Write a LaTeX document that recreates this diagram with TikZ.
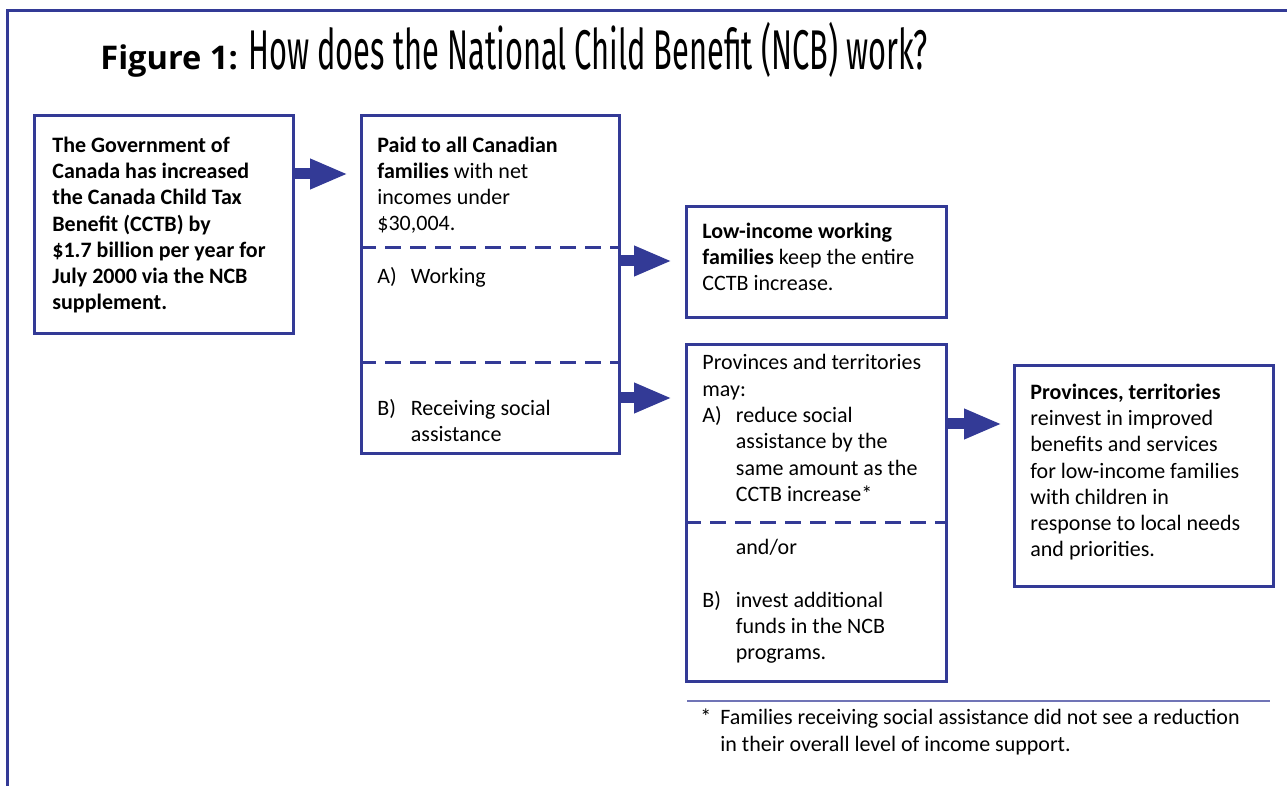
\documentclass[tikz,border=0pt]{standalone}
\usepackage{fontspec}
\usepackage{graphicx}
\setmainfont{Carlito}
\newfontfamily\titlefont{Fira Sans}
\newfontfamily\figfont{Open Sans}
\usetikzlibrary{arrows.meta}
\definecolor{ncbblue}{RGB}{51,58,150}
\definecolor{ncbrule}{RGB}{112,116,182}
\tikzset{
  box/.style={draw=ncbblue,line width=1.5pt,anchor=north west,inner sep=0pt},
  divider/.style={draw=ncbblue,line width=1.5pt,dash pattern=on 8pt off 4.5pt},
  flow/.style={draw=ncbblue,fill=ncbblue,line width=5.5pt,-{Triangle[length=19pt,width=14pt]}},
  % anchored on the baseline of the last line
  txt/.style={anchor=base west,inner sep=0pt,align=left,font=\fontsize{11}{13.15}\selectfont},
  boldtxt/.style={txt,font=\fontsize{11}{13.15}\selectfont\bfseries},
}
\newcommand\lbl[1]{\makebox[16.75pt][l]{#1}}
\newcommand\ind{\hspace*{16.75pt}}

\begin{document}
\begin{tikzpicture}[x=0.5pt,y=-0.5pt]
	\useasboundingbox (0,0) rectangle (1287,786);
	% frame
	\draw[ncbblue,line width=1.5pt] (7,786) -- (7,11) -- (1287,11);
	% title
	\node (fig) at (100,70) [anchor=base west,inner sep=0pt] {\figfont\bfseries\fontsize{16.3}{17}\selectfont Figure 1:};
	\node (title) at (248,70) [anchor=base west,inner sep=0pt] {\scalebox{0.55}[1]{\titlefont\fontsize{28}{28}\selectfont How does the National Child Benefit (NCB) work?}};
	% boxes
	\node (gov) at (33,114) [box,minimum width=129.5pt,minimum height=109pt] {};
	\node (paid) at (360,114) [box,minimum width=129pt,minimum height=169pt] {};
	\node (work) at (685,205) [box,minimum width=130pt,minimum height=55.5pt] {};
	\node (prov) at (685,343) [box,minimum width=130pt,minimum height=168.5pt] {};
	\node (reinv) at (1013,364) [box,minimum width=129.5pt,minimum height=110.5pt] {};
	% dashed splits
	\draw[divider] (paid.west |- 0,248) -- (paid.east |- 0,248);
	\draw[divider] (paid.west |- 0,363) -- (paid.east |- 0,363);
	\draw[divider] (prov.west |- 0,523) -- (prov.east |- 0,523);
	% arrows
	\coordinate (a1) at ([yshift=-30pt]gov.north east);
	\coordinate (a2) at ([yshift=-73.5pt]paid.north east);
	\coordinate (a3) at ([yshift=-142pt]paid.north east);
	\coordinate (a4) at ([yshift=-40.5pt]prov.north east);
	\draw[flow,shorten >=6pt] (a1) -- (a1 -| paid.west);
	\draw[flow,shorten >=6.5pt] (a2) -- (a2 -| work.west);
	\draw[flow,shorten >=6.5pt] (a3) -- (a3 -| prov.west);
	\draw[flow,shorten >=5.5pt] (a4) -- (a4 -| reinv.west);
	% texts
	\node (govtxt) at (52,310) [boldtxt] {The Government of\\ Canada has increased\\ the Canada Child Tax\\ Benefit (CCTB) by\\ \$1.7 billion per year for\\ July 2000 via the NCB\\ supplement.};
	\node (paidtxt) at (377,231) [txt] {\textbf{Paid to all Canadian}\\ \textbf{families} with net\\ incomes under\\ \$30,004.};
	\node (worktxt) at (377,284) [txt] {\lbl{A)}Working};
	\node (socialtxt) at (377,442) [txt] {\lbl{B)}Receiving social\\ \ind assistance};
	\node (keeptxt) at (702,291) [txt] {\textbf{Low-income working}\\ \textbf{families} keep the entire\\ CCTB increase.};
	\node (maytxt) at (702,501.5) [txt] {Provinces and territories\\ may:\\ \lbl{A)}reduce social\\ \ind assistance by the\\ \ind same amount as the\\ \ind CCTB increase*};
	\node (andortxt) at (702,555) [txt] {\ind and/or};
	\node (investtxt) at (702,660) [txt] {\lbl{B)}invest additional\\ \ind funds in the NCB\\ \ind programs.};
	\node (reinvtxt) at (1030,557) [txt] {\textbf{Provinces, territories}\\ reinvest in improved\\ benefits and services\\ for low-income families\\ with children in\\ response to local needs\\ and priorities.};
	% footnote
	\draw[ncbrule,line width=0.75pt] (687,701) -- (1270,701);
	\node (note) at (700,751) [txt] {\makebox[10pt][l]{*}Families receiving social assistance did not see a reduction\\ \hspace*{10pt}in their overall level of income support.};
\end{tikzpicture}
\end{document}
